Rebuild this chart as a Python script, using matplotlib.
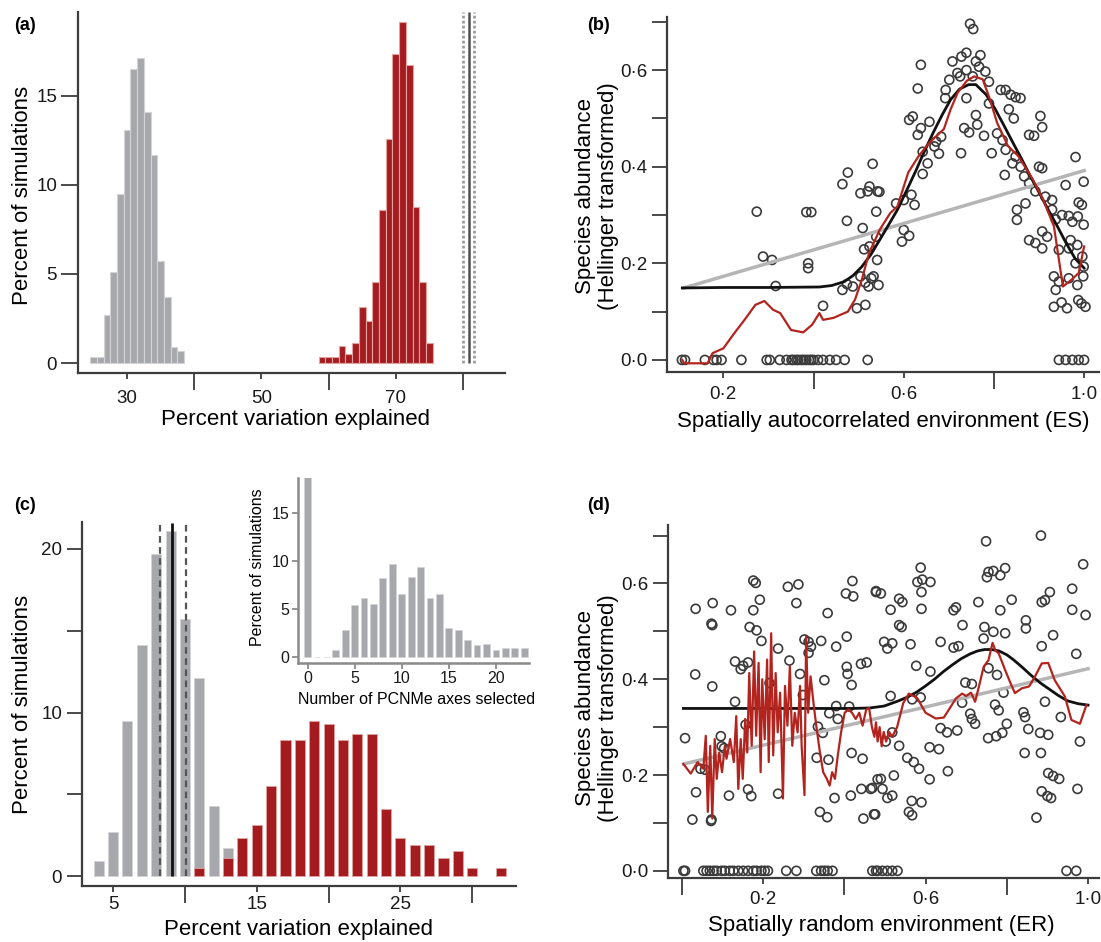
import matplotlib
matplotlib.use("Agg")
import matplotlib.pyplot as plt

plt.rcParams['font.family'] = ['Liberation Sans', 'DejaVu Sans']

GREY = "#a7a8ab"
RED = "#a51c20"
DARK = "#3c3c3c"
TICK_FS = 13.5

# ---- (a) histograms of variation explained
a_grey_x = list(range(25, 39))
a_grey_pct = [0.34, 0.34, 2.7, 5.1, 9.5, 13.1, 16.5, 17.1, 14.1, 11.7, 5.7, 3.7, 0.9, 0.7]
a_red_x = list(range(59, 76))
a_red_pct = [0.34, 0.34, 0.34, 0.94, 0.52, 1.12, 3.15, 2.34, 4.53, 8.56, 12.55,
             17.36, 19.16, 16.74, 8.73, 4.53, 1.12]
a_obs = 80.85
a_ci = [80.0, 81.6]

# ---- (b) spatially autocorrelated environment
b_env = [0.108, 0.115, 0.159, 0.178, 0.185, 0.196, 0.24, 0.296, 0.303, 0.325, 0.34, 0.351,
         0.355, 0.362, 0.366, 0.373, 0.378, 0.384, 0.39, 0.395, 0.4, 0.41, 0.421, 0.436,
         0.45, 0.469, 0.52, 0.944, 0.959, 0.974, 0.988, 1.0,
         0.531, 0.476, 0.464, 0.504, 0.274, 0.384, 0.395, 0.474, 0.512, 0.288, 0.308, 0.388,
         0.388, 0.528, 0.515, 0.474, 0.487, 0.464, 0.316, 0.421, 0.496, 0.515, 0.546, 0.544,
         0.747, 0.754, 0.638, 0.739, 0.728, 0.708, 0.77, 0.76, 0.781, 0.719, 0.701, 0.739,
         0.631, 0.789, 0.815, 0.826, 0.837, 0.848, 0.859, 0.692, 0.739, 0.789, 0.833, 0.62,
         0.612, 0.657, 0.76, 0.844, 0.903, 0.638, 0.631, 0.763, 0.907, 0.734, 0.745, 0.778,
         0.807, 0.683, 0.672, 0.878, 0.889, 0.819, 0.642, 0.668, 0.678, 0.727, 0.795, 0.826,
         0.848, 0.653, 0.841, 0.859, 0.9, 0.907, 0.642, 0.824, 0.867, 0.981, 0.959, 0.999,
         0.524, 0.542, 0.52, 0.878, 0.617, 0.6, 0.892, 0.624, 0.583, 0.87, 0.929, 0.914,
         0.988, 0.995, 0.851, 0.539, 0.929, 0.951, 0.966, 0.986, 0.851, 0.974, 0.999, 0.937,
         0.509, 0.6, 0.539, 0.907, 0.918, 0.612, 0.596, 0.878, 0.892, 0.907, 0.97, 0.985,
         0.524, 0.541, 0.944, 0.966, 0.996, 0.999, 0.981, 0.933, 0.944, 0.504, 0.533, 0.522,
         0.985, 0.937, 0.966, 0.998, 0.933, 0.95, 0.962, 0.987, 0.994, 1.003, 0.725, 0.753,
         0.767, 0.693]
b_abund = [0.0] * 32 + [
         0.406, 0.388, 0.364, 0.345, 0.307, 0.306, 0.306, 0.288, 0.229, 0.214, 0.207, 0.2,
         0.19, 0.169, 0.16, 0.157, 0.152, 0.145, 0.153, 0.112, 0.107, 0.114, 0.348, 0.155,
         0.696, 0.685, 0.611, 0.636, 0.628, 0.618, 0.631, 0.618, 0.597, 0.594, 0.58, 0.6,
         0.562, 0.576, 0.559, 0.559, 0.549, 0.544, 0.542, 0.542, 0.542, 0.531, 0.519, 0.504,
         0.497, 0.493, 0.507, 0.5, 0.505, 0.48, 0.466, 0.487, 0.482, 0.48, 0.471, 0.464,
         0.469, 0.462, 0.452, 0.466, 0.464, 0.455, 0.431, 0.442, 0.427, 0.428, 0.428, 0.435,
         0.421, 0.407, 0.407, 0.4, 0.4, 0.397, 0.385, 0.383, 0.38, 0.42, 0.362, 0.369,
         0.359, 0.349, 0.349, 0.366, 0.342, 0.331, 0.349, 0.321, 0.324, 0.324, 0.331, 0.338,
         0.326, 0.321, 0.311, 0.307, 0.311, 0.3, 0.298, 0.297, 0.29, 0.286, 0.28, 0.291,
         0.273, 0.269, 0.255, 0.266, 0.255, 0.257, 0.245, 0.248, 0.242, 0.231, 0.248, 0.238,
         0.235, 0.207, 0.228, 0.231, 0.214, 0.193, 0.2, 0.173, 0.162, 0.173, 0.173, 0.152,
         0.155, 0.145, 0.169, 0.173, 0.11, 0.119, 0.107, 0.124, 0.117, 0.11, 0.587, 0.587,
         0.607, 0.559]
b_lin_x = [0.112, 1.0]
b_lin_y = [0.149, 0.392]
b_fit_x = [0.109, 0.2, 0.3, 0.413, 0.44, 0.468, 0.488, 0.507, 0.527, 0.547, 0.566, 0.586,
           0.606, 0.626, 0.645, 0.665, 0.685, 0.704, 0.724, 0.744, 0.76, 0.783, 0.803,
           0.823, 0.842, 0.862, 0.881, 0.901, 0.921, 0.941, 0.96, 0.98, 1.0]
b_fit_y = [0.149, 0.15, 0.15, 0.151, 0.154, 0.162, 0.175, 0.193, 0.218, 0.249, 0.279,
           0.311, 0.35, 0.39, 0.43, 0.47, 0.507, 0.539, 0.561, 0.57, 0.57, 0.549, 0.519,
           0.484, 0.45, 0.415, 0.38, 0.345, 0.31, 0.276, 0.242, 0.21, 0.19]
b_smooth_x = [0.109, 0.113, 0.165, 0.176, 0.2, 0.224, 0.247, 0.271, 0.291, 0.31, 0.326,
              0.35, 0.377, 0.397, 0.413, 0.421, 0.444, 0.476, 0.492, 0.507, 0.523, 0.547,
              0.57, 0.586, 0.61, 0.633, 0.657, 0.689, 0.704, 0.72, 0.74, 0.756, 0.775,
              0.791, 0.807, 0.831, 0.854, 0.886, 0.909, 0.933, 0.953, 0.972, 0.988, 1.0]
b_smooth_y = [0.0, -0.007, -0.007, 0.014, 0.024, 0.055, 0.083, 0.114, 0.122, 0.104, 0.097,
              0.062, 0.057, 0.073, 0.097, 0.083, 0.087, 0.1, 0.125, 0.166, 0.221, 0.27,
              0.304, 0.318, 0.388, 0.422, 0.45, 0.478, 0.519, 0.554, 0.578, 0.587, 0.581,
              0.54, 0.491, 0.443, 0.422, 0.374, 0.332, 0.277, 0.152, 0.166, 0.18, 0.235]

# ---- (c) main histogram and inset
c_grey_x = list(range(4, 14))
c_grey_pct = [0.92, 2.71, 9.49, 14.1, 19.7, 21.1, 15.7, 12.1, 4.29, 1.7]
c_red_x = [11, 13, 14, 15, 16, 17, 18, 19, 20, 21, 22, 23, 24, 25, 26, 27, 28, 29, 30, 32]
c_red_pct = [0.51, 1.12, 2.31, 3.12, 5.53, 8.33, 8.33, 9.51, 9.31, 8.33, 8.69, 8.69,
             4.1, 2.31, 1.9, 1.9, 1.12, 1.53, 0.51, 0.51]
c_obs = 9.12
c_ci = [8.24, 10.08]
inset_axes_n = list(range(0, 24))
inset_pct = [19.0, 0, 0, 0.76, 2.78, 5.38, 6.15, 5.56, 8.16, 9.62, 6.56, 8.33, 9.38,
             6.15, 6.56, 3.02, 2.78, 1.74, 1.22, 1.39, 0.76, 0.94, 0.94, 0.94]

# ---- (d) spatially random environment
d_env = [0.004, 0.008, 0.053, 0.061, 0.069, 0.078, 0.086, 0.098, 0.106, 0.118, 0.127,
         0.139, 0.151, 0.163, 0.176, 0.184, 0.196, 0.204, 0.212, 0.257, 0.282, 0.331,
         0.343, 0.351, 0.359, 0.371, 0.469, 0.478, 0.482, 0.494, 0.506, 0.518, 0.531,
         0.947, 0.971,
         0.176, 0.182, 0.261, 0.287, 0.42, 0.404, 0.422, 0.478, 0.034, 0.076, 0.121, 0.192,
         0.176, 0.282, 0.359, 0.073, 0.075, 0.167, 0.184, 0.196, 0.237, 0.302, 0.312, 0.318,
         0.312, 0.343, 0.38, 0.406, 0.131, 0.145, 0.151, 0.163, 0.265, 0.216, 0.406, 0.408,
         0.418, 0.441, 0.455, 0.033, 0.075, 0.291, 0.351, 0.298, 0.131, 0.38, 0.412, 0.363,
         0.384, 0.335, 0.347, 0.157, 0.008, 0.096, 0.104, 0.057, 0.035, 0.116, 0.163, 0.171,
         0.237, 0.332, 0.361, 0.418, 0.445, 0.376, 0.416, 0.442, 0.465, 0.482, 0.026, 0.073,
         0.072, 0.34, 0.358, 0.447, 0.473, 0.098, 0.046,
         0.749, 0.884, 0.988, 0.588, 0.58, 0.592, 0.612, 0.59, 0.478, 0.49, 0.535, 0.543,
         0.514, 0.59, 0.669, 0.675, 0.73, 0.755, 0.767, 0.784, 0.796, 0.751, 0.784, 0.812,
         0.886, 0.894, 0.906, 0.961, 0.961, 0.994, 0.535, 0.541, 0.691, 0.745, 0.767, 0.796,
         0.847, 0.847, 0.914, 0.498, 0.506, 0.518, 0.563, 0.637, 0.669, 0.681, 0.743, 0.886,
         0.971, 0.577, 0.612, 0.698, 0.714, 0.755, 0.776, 0.792, 0.514, 0.567, 0.588, 0.69,
         0.894, 0.771, 0.78, 0.841, 0.845, 0.71, 0.714, 0.722, 0.933, 0.637, 0.653, 0.678,
         0.8, 0.853, 0.518, 0.754, 0.774, 0.789, 0.882, 0.902, 0.535, 0.502, 0.98, 0.61,
         0.633, 0.844, 0.884, 0.555, 0.571, 0.584, 0.655, 0.522, 0.61, 0.49, 0.902, 0.914,
         0.929, 0.469, 0.494, 0.506, 0.518, 0.566, 0.59, 0.886, 0.9, 0.909, 0.974, 0.476,
         0.559, 0.567, 0.873]
d_abund = [0.0] * 35 + [
         0.606, 0.601, 0.593, 0.598, 0.605, 0.579, 0.573, 0.582, 0.547, 0.559, 0.544, 0.566,
         0.544, 0.559, 0.538, 0.516, 0.513, 0.509, 0.502, 0.48, 0.464, 0.483, 0.478, 0.468,
         0.455, 0.48, 0.468, 0.489, 0.437, 0.421, 0.428, 0.435, 0.439, 0.392, 0.426, 0.411,
         0.388, 0.432, 0.435, 0.41, 0.385, 0.411, 0.398, 0.367, 0.353, 0.344, 0.343, 0.329,
         0.317, 0.301, 0.288, 0.305, 0.277, 0.281, 0.256, 0.211, 0.164, 0.157, 0.17, 0.156,
         0.161, 0.236, 0.232, 0.246, 0.234, 0.152, 0.157, 0.171, 0.171, 0.191, 0.107, 0.107,
         0.104, 0.123, 0.112, 0.109, 0.118, 0.26, 0.213,
         0.688, 0.7, 0.64, 0.633, 0.603, 0.608, 0.603, 0.582, 0.584, 0.579, 0.568, 0.561,
         0.545, 0.547, 0.544, 0.55, 0.561, 0.624, 0.626, 0.617, 0.632, 0.613, 0.544, 0.566,
         0.561, 0.565, 0.582, 0.589, 0.545, 0.534, 0.513, 0.509, 0.513, 0.509, 0.499, 0.496,
         0.523, 0.506, 0.492, 0.478, 0.464, 0.475, 0.473, 0.478, 0.466, 0.469, 0.485, 0.469,
         0.453, 0.428, 0.416, 0.393, 0.39, 0.423, 0.409, 0.372, 0.365, 0.358, 0.362, 0.351,
         0.353, 0.347, 0.335, 0.331, 0.321, 0.328, 0.317, 0.307, 0.321, 0.298, 0.289, 0.293,
         0.307, 0.296, 0.289, 0.277, 0.281, 0.288, 0.288, 0.284, 0.261, 0.27, 0.27, 0.258,
         0.254, 0.246, 0.246, 0.236, 0.227, 0.213, 0.208, 0.199, 0.191, 0.192, 0.204, 0.198,
         0.192, 0.173, 0.171, 0.152, 0.157, 0.146, 0.143, 0.166, 0.156, 0.152, 0.171, 0.118,
         0.123, 0.116, 0.111]
d_lin_x = [0.004, 1.0]
d_lin_y = [0.223, 0.422]
d_fit_x = [0.004, 0.2, 0.42, 0.463, 0.498, 0.534, 0.556, 0.578, 0.6, 0.622, 0.644, 0.666,
           0.688, 0.71, 0.728, 0.745, 0.763, 0.781, 0.8, 0.816, 0.838, 0.86, 0.883, 0.905,
           0.927, 0.949, 0.975, 1.0]
d_fit_y = [0.339, 0.339, 0.339, 0.34, 0.344, 0.355, 0.363, 0.373, 0.386, 0.4, 0.416,
           0.43, 0.443, 0.453, 0.459, 0.462, 0.462, 0.459, 0.451, 0.441, 0.425, 0.408,
           0.392, 0.379, 0.366, 0.355, 0.349, 0.346]
d_smooth_x = [0.004, 0.022, 0.039, 0.053, 0.059, 0.064, 0.07, 0.075, 0.081, 0.086, 0.092,
              0.099, 0.106, 0.11, 0.119, 0.128, 0.134, 0.139, 0.145, 0.15, 0.156, 0.161,
              0.166, 0.172, 0.178, 0.183, 0.189, 0.194, 0.198, 0.204, 0.21, 0.214, 0.22,
              0.225, 0.231, 0.236, 0.242, 0.249, 0.254, 0.26, 0.266, 0.272, 0.278, 0.285,
              0.291, 0.295, 0.302, 0.306, 0.311, 0.317, 0.325, 0.331, 0.34, 0.348, 0.357,
              0.364, 0.37, 0.377, 0.384, 0.392, 0.401, 0.41, 0.419, 0.428, 0.437, 0.445,
              0.454, 0.461, 0.468, 0.474, 0.478, 0.482, 0.487, 0.492, 0.497, 0.503, 0.51,
              0.518, 0.53, 0.545, 0.559, 0.57, 0.58, 0.6, 0.625, 0.645, 0.66, 0.675, 0.69,
              0.7, 0.712, 0.722, 0.733, 0.743, 0.755, 0.765, 0.772, 0.78, 0.796, 0.81, 0.82,
              0.837, 0.855, 0.869, 0.886, 0.902, 0.918, 0.943, 0.959, 0.98, 0.996]
d_smooth_y = [0.223, 0.203, 0.227, 0.213, 0.282, 0.123, 0.261, 0.109, 0.275, 0.192, 0.247,
              0.206, 0.261, 0.234, 0.275, 0.227, 0.323, 0.171, 0.275, 0.192, 0.317, 0.247,
              0.413, 0.261, 0.458, 0.282, 0.434, 0.206, 0.4, 0.275, 0.441, 0.227, 0.496,
              0.241, 0.413, 0.289, 0.372, 0.151, 0.386, 0.303, 0.427, 0.261, 0.33, 0.289,
              0.386, 0.261, 0.158, 0.489, 0.33, 0.406, 0.344, 0.303, 0.247, 0.206, 0.192,
              0.178, 0.206, 0.192, 0.241, 0.289, 0.33, 0.337, 0.33, 0.317, 0.33, 0.303,
              0.337, 0.34, 0.30, 0.28, 0.31, 0.27, 0.30, 0.26, 0.29, 0.27, 0.29,
              0.28, 0.30, 0.35, 0.37, 0.365, 0.36, 0.33, 0.318, 0.32, 0.34, 0.36, 0.37,
              0.365, 0.372, 0.353, 0.39, 0.426, 0.44, 0.476, 0.46, 0.454, 0.419, 0.39, 0.371,
              0.381, 0.385, 0.405, 0.433, 0.434, 0.398, 0.364, 0.315, 0.307, 0.346]

W, H = 1101, 942
fig = plt.figure(figsize=(W / 100, H / 100), dpi=100)


def px_rect(l, t, r, b):
    return [l / W, 1 - b / H, (r - l) / W, (b - t) / H]


def style(ax, spine_col=DARK, lw=1.6):
    for s in ["top", "right"]:
        ax.spines[s].set_visible(False)
    for s in ["left", "bottom"]:
        ax.spines[s].set_linewidth(lw)
        ax.spines[s].set_color(spine_col)
    ax.tick_params(which="both", colors=spine_col, labelcolor="#1a1a1a", width=1.3)
    ax.patch.set_alpha(0)


def dot(v):
    return f"{v:.1f}".replace(".", "\u00b7")


def text_px(x, y, s, **kw):
    fig.text(x / W, 1 - y / H, s, ha="center", va="center", **kw)


# (a)
ax = fig.add_axes(px_rect(78, 12, 505, 373))
style(ax)
ax.bar(a_grey_x, a_grey_pct, width=1.0, color=GREY, edgecolor="#d4d4d6", linewidth=0.8)
ax.bar(a_red_x, a_red_pct, width=1.0, color=RED, edgecolor="#e0a3a0", linewidth=0.8)
ax.vlines(a_ci, 0, 19.7, colors="#9c9c9c", linestyles=(0, (1, 0.8)), linewidth=2)
ax.vlines(a_obs, 0, 19.7, colors="#505050", linewidth=1.8)
ax.set_xlim(22.7, 86.25)
ax.set_ylim(-0.56, 19.7)
ax.set_xticks([30, 50, 70], ["30", "50", "70"])
ax.set_xticks([40, 60, 80], minor=True)
ax.tick_params(axis="x", which="major", length=4, pad=8, labelsize=TICK_FS)
ax.tick_params(axis="x", which="minor", length=12)
ax.set_yticks([0, 5, 10, 15])
ax.tick_params(axis="y", length=12, pad=3, labelsize=TICK_FS)

# (b) and (d) scatter panels
def scatter_panel(rect, xs, ys, lx, ly, fx, fy, sx, sy, xlim, ylim, major, minor, pad):
    ax = fig.add_axes(px_rect(*rect))
    style(ax)
    ax.scatter(xs, ys, s=42, facecolors="none", edgecolors="#3a3a3a", linewidths=1.2, zorder=2)
    ax.plot(lx, ly, color="#b5b5b5", lw=2.5, zorder=3)
    ax.plot(fx, fy, color="#111111", lw=2.0, zorder=4)
    ax.plot(sx, sy, color="#b3241f", lw=1.6, zorder=5)
    ax.set_xlim(*xlim)
    ax.set_ylim(*ylim)
    ax.set_xticks(major, [dot(v) for v in major])
    ax.set_xticks(minor, minor=True)
    ax.tick_params(axis="x", which="major", length=4, pad=pad, labelsize=TICK_FS)
    ax.tick_params(axis="x", which="minor", length=12)
    yt = [i / 10 for i in range(8)]
    ax.set_yticks(yt, [dot(v) if i % 2 == 0 else "" for i, v in enumerate(yt)])
    ax.tick_params(axis="y", length=11, pad=3, labelsize=TICK_FS)
    return ax


scatter_panel((667, 17, 1099, 372), b_env, b_abund, b_lin_x, b_lin_y, b_fit_x, b_fit_y,
              b_smooth_x, b_smooth_y, (0.075, 1.033), (-0.025, 0.71),
              [0.2, 0.6, 1.0], [0.4, 0.8], 6)
scatter_panel((668, 525, 1099, 878), d_env, d_abund, d_lin_x, d_lin_y, d_fit_x, d_fit_y,
              d_smooth_x, d_smooth_y, (-0.034, 1.027), (-0.015, 0.722),
              [0.2, 0.6, 1.0], [0.0, 0.4, 0.8], 5)

# (c)
ax = fig.add_axes(px_rect(81.6, 522, 516.5, 886))
style(ax)
ax.bar(c_grey_x, c_grey_pct, width=0.7, color=GREY, edgecolor="#d4d4d6", linewidth=0.6)
ax.bar(c_red_x, c_red_pct, width=0.7, color=RED, edgecolor="#e0a3a0", linewidth=0.6)
ax.vlines(c_ci, 0, 21.6, colors="#555555", linestyles=(0, (3, 2)), linewidth=1.6)
ax.vlines(c_obs, 0, 21.6, colors="#111111", linewidth=2)
ax.set_xlim(2.81, 33.08)
ax.set_ylim(-0.61, 21.65)
ax.set_xticks([5, 15, 25], ["5", "15", "25"])
ax.set_xticks([10, 20, 30], minor=True)
ax.tick_params(axis="x", which="major", length=4, pad=3, labelsize=TICK_FS)
ax.tick_params(axis="x", which="minor", length=12)
ax.set_yticks([0, 5, 10, 15, 20], ["0", "", "10", "", "20"])
ax.tick_params(axis="y", length=11, pad=3, labelsize=TICK_FS)

# inset
ax = fig.add_axes(px_rect(297.9, 478, 528.6, 663))
style(ax, spine_col="#8a8a8a", lw=1.8)
ax.bar(inset_axes_n, inset_pct, width=0.72, color=GREY, edgecolor="#d4d4d6", linewidth=0.5)
ax.set_xlim(-1.02, 23.47)
ax.set_ylim(-0.62, 18.6)
ax.set_xticks([0, 5, 10, 15, 20])
ax.set_yticks([0, 5, 10, 15])
ax.tick_params(length=4, pad=2, labelsize=11.5)

# axis titles and panel letters
FS = 16
text_px(296, 420, "Percent variation explained", fontsize=FS)
text_px(23, 195, "Percent of simulations", fontsize=FS, rotation=90)
text_px(883, 421, "Spatially autocorrelated environment (ES)", fontsize=FS)
text_px(597, 196, "Species abundance\n(Hellinger transformed)", fontsize=FS,
        rotation=90, linespacing=1.1)
text_px(299, 929, "Percent variation explained", fontsize=FS)
text_px(23, 704, "Percent of simulations", fontsize=FS, rotation=90)
text_px(881, 925, "Spatially random environment (ER)", fontsize=FS)
text_px(597, 708, "Species abundance\n(Hellinger transformed)", fontsize=FS,
        rotation=90, linespacing=1.1)
text_px(417, 699, "Number of PCNMe axes selected", fontsize=11.5)
text_px(257, 567, "Percent of simulations", fontsize=11.5, rotation=90)

for lab, x, y in [("(a)", 25, 25), ("(b)", 598, 25), ("(c)", 25, 506), ("(d)", 598, 506)]:
    text_px(x, y, lab, fontsize=13, fontweight="bold")

fig.savefig("out.png", dpi=100, facecolor="white")
